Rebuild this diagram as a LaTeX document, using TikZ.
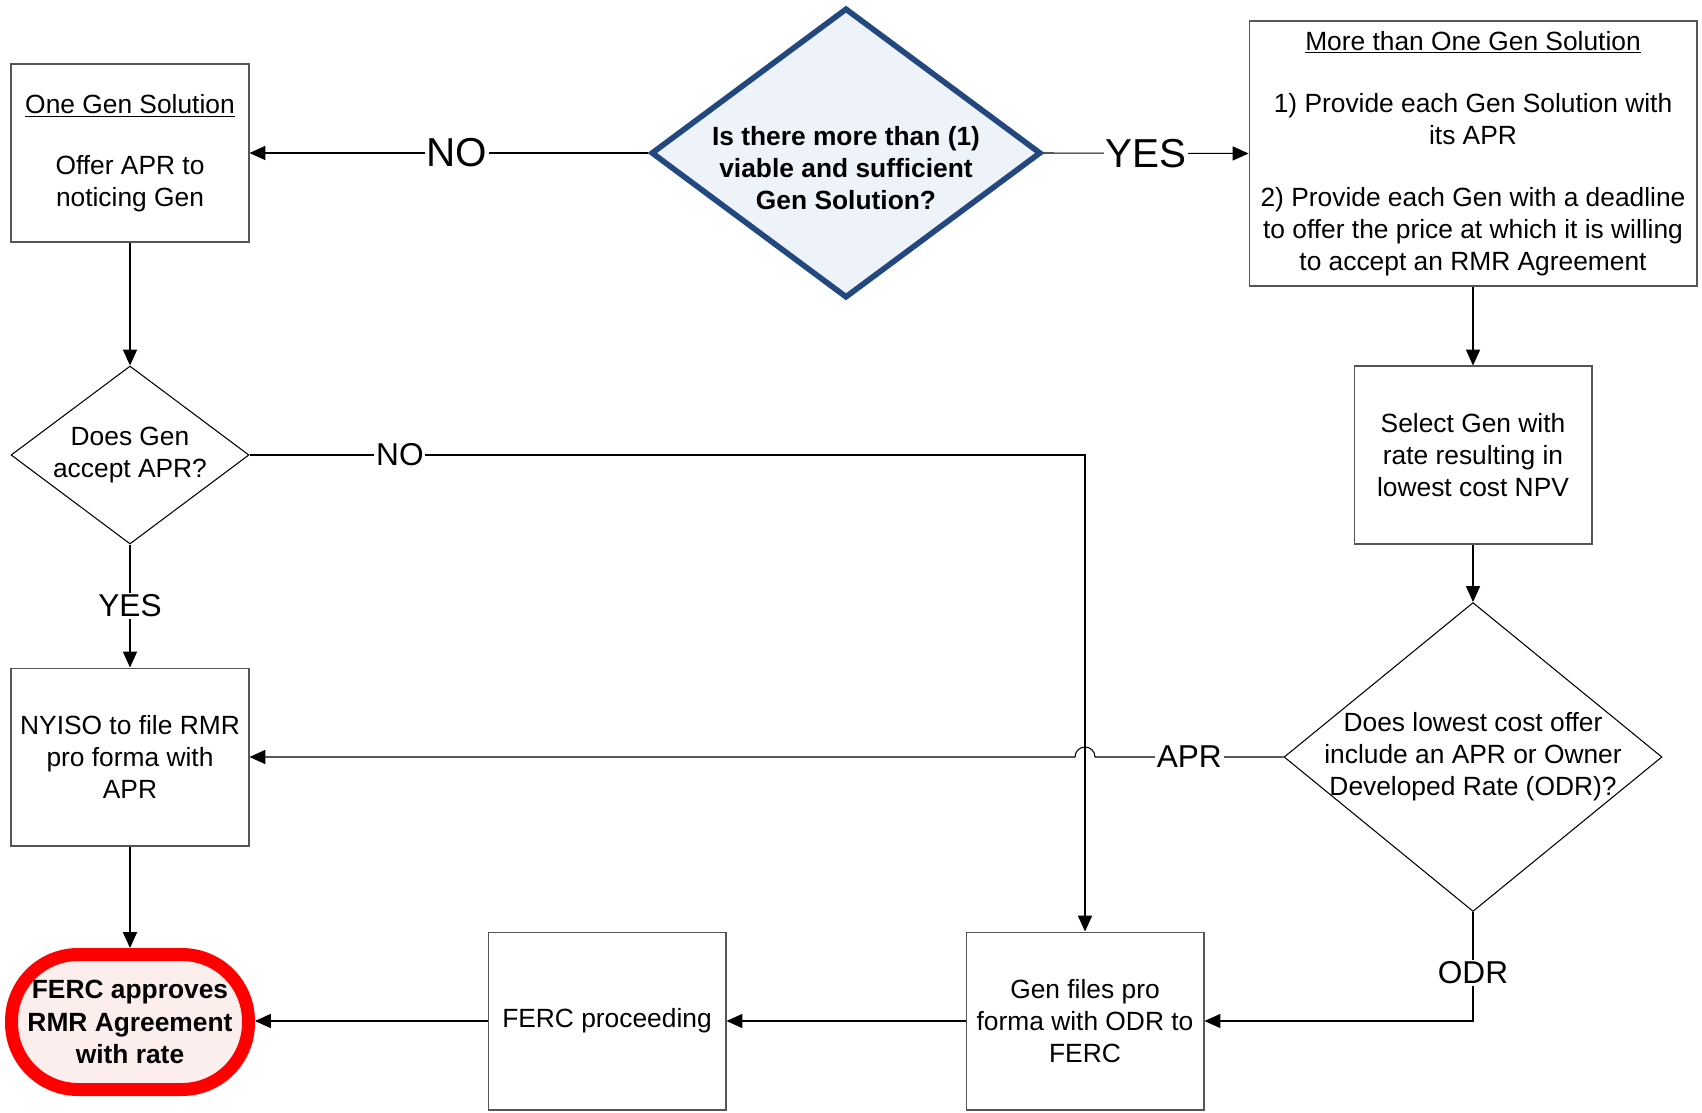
\documentclass[tikz,border=0pt]{standalone}
\usepackage{fontspec}
\setmainfont{Liberation Sans}
\usetikzlibrary{arrows.meta, shapes.geometric, calc}

\definecolor{qblue}{RGB}{35,72,127}
\definecolor{qfill}{RGB}{238,243,250}
\definecolor{endred}{RGB}{255,0,0}
\definecolor{endfill}{RGB}{253,238,238}
\definecolor{boxgray}{RGB}{85,85,85}

\tikzset{
    txt/.style={font=\fontsize{15}{18.3}\selectfont},
    box/.style={txt, draw=boxgray, line width=0.6pt, align=center, inner sep=2pt,
        minimum width=4.76cm, minimum height=3.56cm},
    ask/.style={diamond, draw=black, line width=0.6pt, inner sep=0pt},
    lbl/.style={fill=white, inner sep=1pt, font=\fontsize{18}{20}\selectfont},
    biglbl/.style={fill=white, inner sep=1pt, font=\fontsize{23}{26}\selectfont},
}

\begin{document}
\begin{tikzpicture}[x=0.02cm, y=-0.02cm, line width=0.6pt, >={Triangle[length=9pt,width=8pt]}]
    \useasboundingbox (0,0) rectangle (1702,1112);

    % first question
    \node[ask, draw=qblue, fill=qfill, line width=3.2pt, minimum width=7.8cm, minimum height=5.8cm,
        label={[txt, font=\fontsize{15}{18.3}\selectfont\bfseries, align=center, yshift=-0.3cm]center:Is there more than (1)\\viable and sufficient\\Gen Solution?}] (q1) at (846,153) {};

    % left column
    \node[box] (one) at (130,153) {\underline{One Gen Solution}\\[16.5pt]Offer APR to\\noticing Gen};
    \node[ask, minimum width=4.76cm, minimum height=3.56cm,
        label={[txt, align=center]center:Does Gen\\accept APR?}] (q2) at (130,455) {};
    \node[box] (nyiso) at (130,757) {NYISO to file RMR\\pro forma with\\APR};
    \node[txt, font=\fontsize{15}{18.3}\selectfont\bfseries, align=center, draw=endred, fill=endfill,
        line width=7.4pt, rounded corners=1.33cm, minimum width=4.74cm, minimum height=2.7cm] (ferc) at (130,1022)
        {FERC approves\\RMR Agreement\\with rate};

    % right column
    \node[box, minimum width=8.96cm, minimum height=5.3cm] (more) at (1473,153.5)
        {\underline{More than One Gen Solution}\\[17pt]1) Provide each Gen Solution with\\its APR\\[17pt]2) Provide each Gen with a deadline\\to offer the price at which it is willing\\to accept an RMR Agreement};
    \node[box] (sel) at (1473,455) {Select Gen with\\rate resulting in\\lowest cost NPV};
    \node[ask, minimum width=7.56cm, minimum height=6.18cm,
        label={[txt, align=center]center:Does lowest cost offer\\include an APR or Owner\\Developed Rate (ODR)?}] (q3) at (1473,757) {};

    % bottom row
    \node[box] (gen) at (1085,1021) {Gen files pro\\forma with ODR to\\FERC};
    \node[box] (proc) at (607,1021) {FERC proceeding};

    % connectors
    \draw[->] (q1.west) -- node[biglbl, pos=0.48] {NO} (one.east);
    \draw[->] (q1.east) -- node[biglbl] {YES} (more.west);
    \draw[->] (one) -- (q2);
    \draw[->] (q2) -- node[lbl] {YES} (nyiso);
    \draw[->] (q2.east) -| node[lbl, pos=0.09] {NO} (gen.north);
    \draw[->] (more) -- (sel);
    \draw[->] (sel) -- (q3);
    \draw[->] (q3.west) -- node[lbl] {APR} ($(gen.north |- q3.west)+(10,0)$)
        arc[start angle=0, end angle=180, radius=0.2cm] -- (nyiso.east);
    \draw[->] (q3.south) |- node[lbl, pos=0.28] {ODR} (gen.east);
    \draw[->] (gen) -- (proc);
    \draw[->] (proc.west) -- (proc.west -| ferc.east);
    \draw[->] (nyiso) -- (ferc);
\end{tikzpicture}
\end{document}
